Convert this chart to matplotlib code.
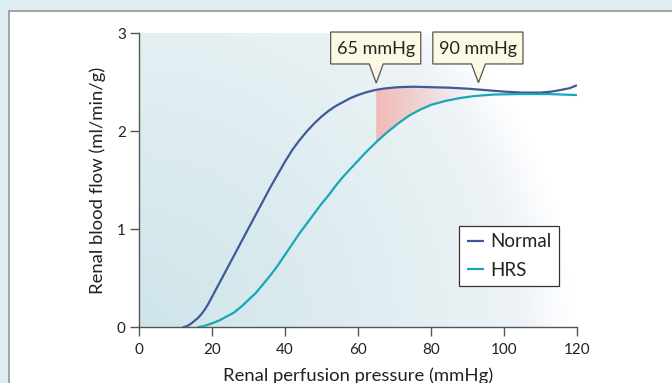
import numpy as np
import matplotlib
matplotlib.use("Agg")
import matplotlib.pyplot as plt
from matplotlib.patches import Rectangle, Polygon
from matplotlib.colors import LinearSegmentedColormap

plt.rcParams['font.family'] = ['Lato', 'DejaVu Sans']

# data
normal_x = [12, 13, 14, 15, 16, 17, 18, 19, 20, 22, 24, 26, 28, 30, 32, 34, 36, 38, 40,
            42, 44, 46, 48, 50, 52, 54, 56, 58, 60, 62, 64, 66, 68, 71, 75, 80, 85, 90,
            95, 100, 105, 110, 113, 116, 118, 120]
normal_y = [0, 0.01, 0.03, 0.06, 0.09, 0.13, 0.18, 0.24, 0.31, 0.45, 0.59, 0.73, 0.87,
            1.01, 1.15, 1.29, 1.43, 1.56, 1.69, 1.81, 1.91, 2.00, 2.08, 2.15, 2.21, 2.26,
            2.30, 2.34, 2.37, 2.395, 2.415, 2.43, 2.44, 2.45, 2.455, 2.45, 2.445, 2.435,
            2.42, 2.405, 2.395, 2.395, 2.405, 2.425, 2.44, 2.47]
hrs_x = [16, 18, 20, 22, 24, 26, 28, 30, 32, 34, 36, 38, 40, 42, 44, 46, 48, 50, 52, 54,
         56, 58, 60, 62, 65, 68, 71, 74, 77, 80, 84, 88, 92, 97, 104, 112, 120]
hrs_y = [0, 0.015, 0.04, 0.07, 0.11, 0.15, 0.21, 0.28, 0.35, 0.44, 0.53, 0.63, 0.74,
         0.85, 0.96, 1.06, 1.16, 1.26, 1.35, 1.45, 1.54, 1.62, 1.70, 1.78, 1.89, 1.99,
         2.08, 2.16, 2.22, 2.27, 2.31, 2.34, 2.36, 2.375, 2.38, 2.38, 2.37]

callout_labels = ['65 mmHg', '90 mmHg']
callout_x = [65, 93]
gap_start, gap_end = 65, 92

xticks = [0, 20, 40, 60, 80, 100, 120]
yticks = [0, 1, 2, 3]

c_normal = '#3d5b9b'
c_hrs = '#17a7b8'

fig = plt.figure(figsize=(6.72, 3.83), dpi=100, facecolor='#deedf1')
fig.patches.append(Rectangle((9 / 672, -0.2), 1.2, 1.2 - 11 / 383, transform=fig.transFigure,
                             facecolor='white', edgecolor='#a3a3a3', lw=1.4, zorder=-5))

ax = fig.add_axes([139 / 672, 1 - 327.3 / 383, 438 / 672, 294 / 383])
ax.set_facecolor('none')
ax.set_xlim(0, 120)
ax.set_ylim(0, 3)

# radial background wash from the lower left corner
gx, gy = np.meshgrid(np.linspace(0, 120, 400), np.linspace(0, 3, 300))
r = np.hypot(gx * 3.65, gy * 98) / 435
bg = LinearSegmentedColormap.from_list('bg', [(0, '#cfe5ea'), (0.4, '#dbebef'),
                                              (0.7, '#e6f0f3'), (0.88, '#eef3f8'),
                                              (1, '#ffffff')])
ax.imshow(np.clip(r, 0, 1), extent=[0, 120, 0, 3], origin='lower', aspect='auto',
          cmap=bg, vmin=0, vmax=1, zorder=0, interpolation='bilinear')

# pink band between the curves, fading out to the right
nx = np.array(normal_x)
hx = np.array(hrs_x)
band_x = np.array([x for x in sorted(set(normal_x + hrs_x)) if gap_start <= x <= gap_end])
top = np.interp(band_x, nx, normal_y)
bot = np.interp(band_x, hx, hrs_y)
band = ax.fill_between(band_x, bot, top, color='none', lw=0)
fade = np.zeros((2, 200, 4))
fade[..., :3] = matplotlib.colors.to_rgb('#f4aaa4')
fade[..., 3] = np.linspace(0.8, 0, 200) ** 1.1
im = ax.imshow(fade, extent=[gap_start, gap_end, 0, 3], origin='lower', aspect='auto',
               zorder=1, interpolation='bilinear')
im.set_clip_path(band.get_paths()[0], transform=ax.transData)

ax.plot(normal_x, normal_y, color=c_normal, lw=1.6, label='Normal', zorder=3,
        solid_capstyle='butt')
ax.plot(hrs_x, hrs_y, color=c_hrs, lw=1.6, label='HRS', zorder=3, solid_capstyle='butt')

# callout boxes
for lab, px in zip(callout_labels, callout_x):
    tip = np.interp(px, nx, normal_y) + 0.07
    x0, x1 = px - 12.5, px + 12.2
    y0, y1 = 2.687, 3.013
    pts = [(x0, y0), (px - 1.9, y0), (px, tip), (px + 1.9, y0), (x1, y0), (x1, y1), (x0, y1)]
    ax.add_patch(Polygon(pts, closed=True, facecolor='#fbf9e3', edgecolor='#555555',
                         lw=0.9, zorder=5, clip_on=False))
    ax.text((x0 + x1) / 2, (y0 + y1) / 2 - 0.01, lab, ha='center', va='center',
            fontsize=13, color='#222222', zorder=6)

for s in ['top', 'right']:
    ax.spines[s].set_visible(False)
for s in ['left', 'bottom']:
    ax.spines[s].set_color('#555555')
    ax.spines[s].set_linewidth(1.0)
ax.set_xticks(xticks)
ax.set_yticks(yticks)
ax.tick_params(direction='out', length=6.5, width=1.0, color='#555555',
               labelsize=11, labelcolor='#222222')
ax.tick_params(axis='x', pad=5)
ax.tick_params(axis='y', pad=3)

ax.set_xlabel('Renal perfusion pressure (mmHg)', fontsize=13.3, color='#222222')
ax.set_ylabel('Renal blood flow (ml/min/g)', fontsize=13.3, color='#222222')
ax.xaxis.set_label_coords(0.5, -0.135)
ax.yaxis.set_label_coords(-0.075, 0.5)

leg = ax.legend(loc='upper left', bbox_to_anchor=(0.731, 0.345), fontsize=13.5,
                handlelength=0.9, handletextpad=0.35, borderpad=0.4, labelspacing=0.6,
                fancybox=False, framealpha=1, borderaxespad=0)
leg.get_frame().set_edgecolor('#333333')
leg.get_frame().set_linewidth(0.9)
for t in leg.get_texts():
    t.set_color('#222222')

fig.savefig('out.png', dpi=100, facecolor=fig.get_facecolor())
